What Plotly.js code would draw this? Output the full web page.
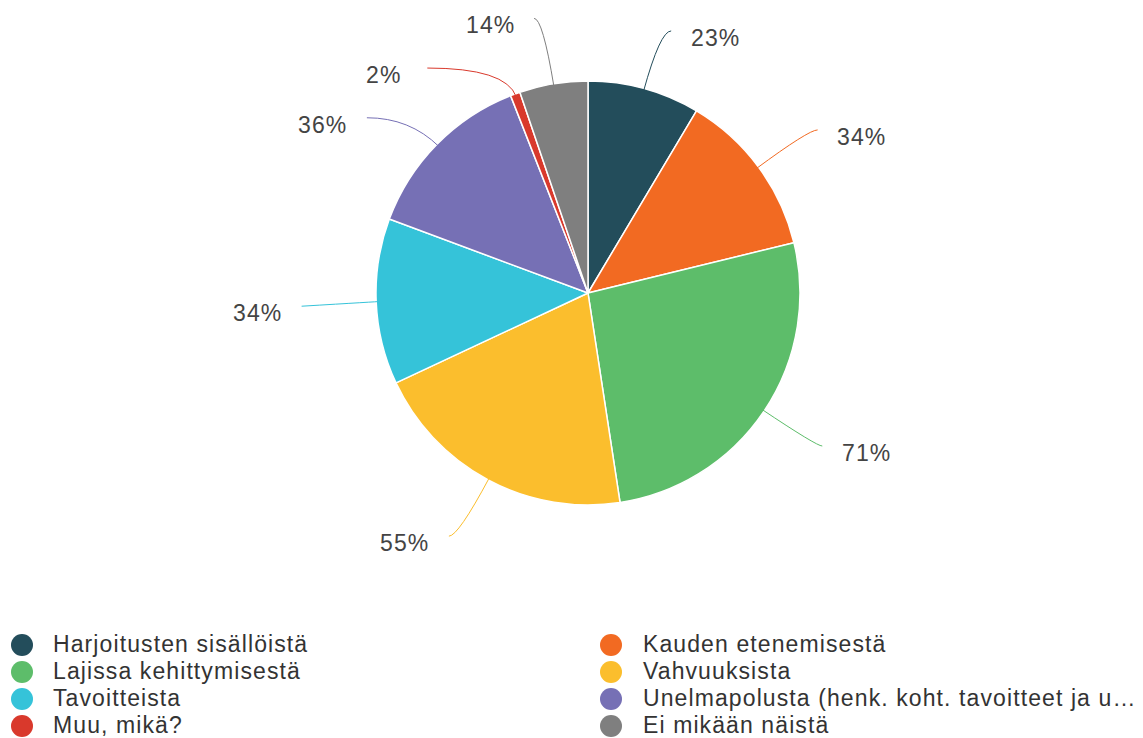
<!DOCTYPE html>
<html><head><meta charset="utf-8">
<script src="https://cdn.plot.ly/plotly-3.0.1.min.js"></script>
<style>
html,body{margin:0;padding:0;background:#fff;}
text.annotation-text { letter-spacing: 1.1px; }
</style>
</head><body><div id="chart" style="width:1143px;height:738px;"></div>
<script>
// ---- data ----
const categories = [
  "Harjoitusten sisällöistä",
  "Kauden etenemisestä",
  "Lajissa kehittymisestä",
  "Vahvuuksista",
  "Tavoitteista",
  "Unelmapolusta (henk. koht. tavoitteet ja u…",
  "Muu, mikä?",
  "Ei mikään näistä"
];
const values = [23, 34, 71, 55, 34, 36, 2, 14];
const valueLabels = values.map(v => v + "%");

// ---- style / layout ----
const colors = ["#234d5b", "#f26a22", "#5dbd6a", "#fbbe2d", "#35c3d9", "#7670b5", "#d9392c", "#7f7f7f"];
const W = 1143, H = 738, CX = 588, CY = 293, R = 212;
// label placement (degrees clockwise from 12 o'clock, radius px from centre)
const labelAngle = [26.5, 60.3, 119.9, 216.2, 266.5, 302.4, 316.8, 339.9];
const labelRadius = [285, 315, 321, 310, 331, 314, 299, 285];
// legend grid
const legendCols = [22, 611], legendTextCols = [51, 641], legendRow0 = 645, legendRowStep = 27;

const px2x = p => p / W, py2y = p => 1 - p / H;

const pie = {
  type: "pie",
  labels: categories,
  values: values,
  sort: false,
  direction: "clockwise",
  rotation: 0,
  textinfo: "none",
  hoverinfo: "label+value",
  marker: {colors: colors, line: {color: "#ffffff", width: 1.5}},
  domain: {x: [px2x(CX - R), px2x(CX + R)], y: [py2y(CY + R), py2y(CY - R)]},
  showlegend: false
};

const shapes = [], annotations = [];
const total = values.reduce((a, b) => a + b, 0);
let cum = 0;
values.forEach((v, i) => {
  const mid = (cum + v / 2) / total * 2 * Math.PI; cum += v;
  const dx = Math.sin(mid), dy = -Math.cos(mid);
  const sx = CX + (R - 3) * dx, sy = CY + (R - 3) * dy;
  const la = labelAngle[i] * Math.PI / 180;
  const tx = CX + labelRadius[i] * Math.sin(la), ty = CY - labelRadius[i] * Math.cos(la);
  const side = Math.sin(la) >= 0 ? -1 : 1;
  const ex = tx + side * 44, ey = ty - 7;
  let qx = sx, qy = sy;
  if (Math.abs(dy) > 0.05) {
    const t = (ey - sy) / dy;
    if (t > 0) { qx = sx + dx * t; qy = ey; }
  }
  qx = side < 0 ? Math.min(qx, ex) : Math.max(qx, ex);
  shapes.push({
    type: "path", xref: "paper", yref: "paper",
    path: `M ${px2x(sx)} ${py2y(sy)} Q ${px2x(qx)} ${py2y(qy)} ${px2x(ex)} ${py2y(ey)}`,
    line: {color: colors[i], width: 1}
  });
  annotations.push({
    xref: "paper", yref: "paper", x: px2x(tx), y: py2y(ty),
    xanchor: "center", yanchor: "middle", showarrow: false,
    text: valueLabels[i],
    font: {family: "Arial, 'Liberation Sans', sans-serif", size: 23, color: "#444444"}
  });
});

// legend: two columns, row-wise order
categories.forEach((c, i) => {
  const col = i % 2, row = Math.floor(i / 2);
  const cy = legendRow0 + row * legendRowStep, cx = legendCols[col];
  shapes.push({
    type: "circle", xref: "paper", yref: "paper",
    x0: px2x(cx - 11), x1: px2x(cx + 11), y0: py2y(cy + 11), y1: py2y(cy - 11),
    fillcolor: colors[i], line: {width: 0}
  });
  annotations.push({
    xref: "paper", yref: "paper", x: px2x(legendTextCols[col]), y: py2y(cy),
    xanchor: "left", yanchor: "middle", showarrow: false, yshift: 1,
    text: c,
    font: {family: "Arial, 'Liberation Sans', sans-serif", size: 23, color: "#333333"}
  });
});

const layout = {
  width: W, height: H,
  margin: {l: 0, r: 0, t: 0, b: 0},
  paper_bgcolor: "#ffffff", plot_bgcolor: "#ffffff",
  showlegend: false,
  shapes: shapes, annotations: annotations
};
Plotly.newPlot("chart", [pie], layout, {displayModeBar: false, responsive: false});
</script></body></html>
